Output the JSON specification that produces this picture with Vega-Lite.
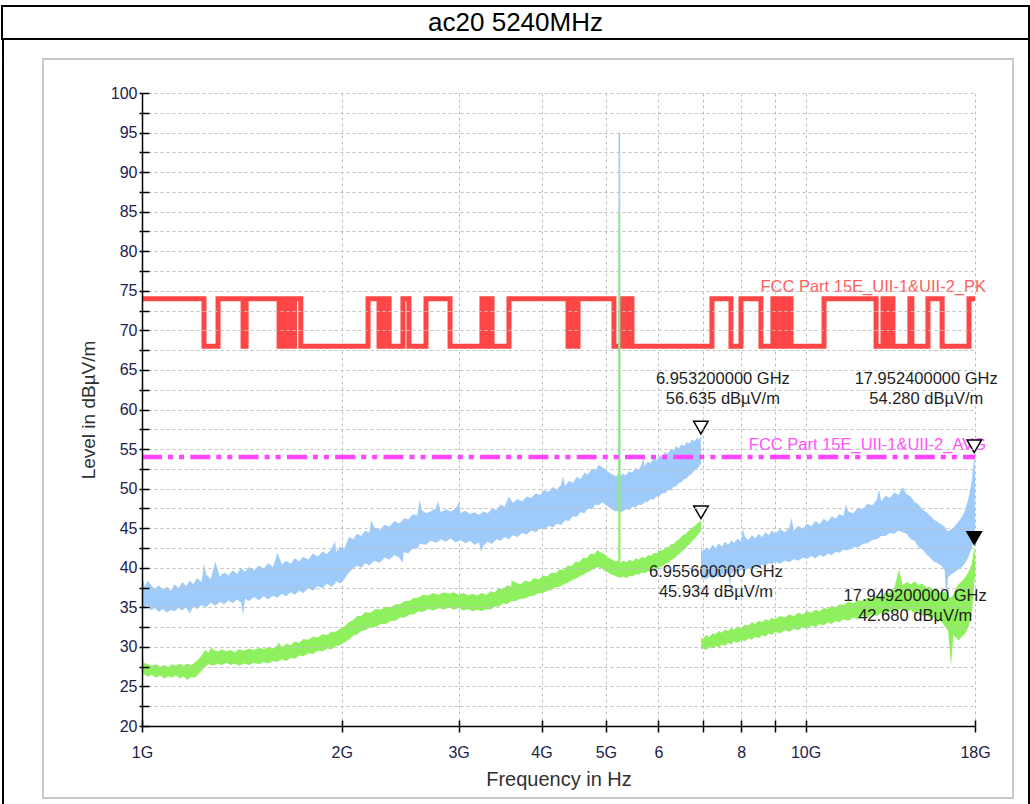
{
  "$schema": "https://vega.github.io/schema/vega-lite/v6.json",
  "background": "white",
  "padding": {"left": 1, "top": 5, "right": 0, "bottom": 0},
  "spacing": 0,
  "bounds": "flush",
  "config": {
    "view": {"stroke": null},
    "concat": {"spacing": 0},
    "font": "Liberation Sans"
  },
  "datasets": {
    "pkLimit": [
      {"f": 1, "lim": 74}, {"f": 1.240, "lim": 68}, {"f": 1.302, "lim": 74}, {"f": 1.420, "lim": 68}, {"f": 1.435, "lim": 74},
      {"f": 1.609, "lim": 68}, {"f": 1.620, "lim": 74}, {"f": 1.632, "lim": 68}, {"f": 1.643, "lim": 74}, {"f": 1.654, "lim": 68},
      {"f": 1.666, "lim": 74}, {"f": 1.695, "lim": 68}, {"f": 1.698, "lim": 74}, {"f": 1.735, "lim": 68}, {"f": 2.191, "lim": 74},
      {"f": 2.276, "lim": 68}, {"f": 2.316, "lim": 74}, {"f": 2.357, "lim": 68}, {"f": 2.473, "lim": 74}, {"f": 2.525, "lim": 68},
      {"f": 2.679, "lim": 74}, {"f": 2.912, "lim": 68}, {"f": 3.253, "lim": 74}, {"f": 3.276, "lim": 68}, {"f": 3.311, "lim": 74},
      {"f": 3.369, "lim": 68}, {"f": 3.573, "lim": 74}, {"f": 4.385, "lim": 68}, {"f": 4.416, "lim": 74}, {"f": 4.447, "lim": 68},
      {"f": 4.477, "lim": 74}, {"f": 4.509, "lim": 68}, {"f": 4.540, "lim": 74}, {"f": 5.143, "lim": 68}, {"f": 5.288, "lim": 74},
      {"f": 5.325, "lim": 68}, {"f": 5.362, "lim": 74}, {"f": 5.400, "lim": 68}, {"f": 5.437, "lim": 74}, {"f": 5.475, "lim": 68},
      {"f": 7.226, "lim": 74}, {"f": 7.719, "lim": 68}, {"f": 7.991, "lim": 74}, {"f": 8.564, "lim": 68}, {"f": 8.928, "lim": 74},
      {"f": 8.990, "lim": 68}, {"f": 9.053, "lim": 74}, {"f": 9.116, "lim": 68}, {"f": 9.180, "lim": 74}, {"f": 9.244, "lim": 68},
      {"f": 9.308, "lim": 74}, {"f": 9.373, "lim": 68}, {"f": 9.438, "lim": 74}, {"f": 9.506, "lim": 68}, {"f": 10.66, "lim": 74},
      {"f": 12.77, "lim": 68}, {"f": 13.08, "lim": 74}, {"f": 13.17, "lim": 68}, {"f": 13.26, "lim": 74}, {"f": 13.36, "lim": 68},
      {"f": 13.45, "lim": 74}, {"f": 13.54, "lim": 68}, {"f": 14.36, "lim": 74}, {"f": 14.46, "lim": 68}, {"f": 15.29, "lim": 74},
      {"f": 16.06, "lim": 68}, {"f": 17.63, "lim": 74}, {"f": 18, "lim": 74}
    ],
    "avLimit": [{"f": 1, "lim": 54}, {"f": 18, "lim": 54}],
    "limitNames": [
      {"f": 18, "lim": 74, "name": "FCC Part 15E_UII-1&UII-2_PK", "kind": "PK"},
      {"f": 18, "lim": 54, "name": "FCC Part 15E_UII-1&UII-2_AVG", "kind": "AVG"}
    ],
    "peakTrace": [
      {"f": 1.000, "lo": 35.2, "hi": 38.9}, {"f": 1.010, "lo": 34.8, "hi": 37.6}, {"f": 1.020, "lo": 35.3, "hi": 38.4},
      {"f": 1.030, "lo": 34.6, "hi": 37.9}, {"f": 1.045, "lo": 34.9, "hi": 37.3}, {"f": 1.060, "lo": 34.4, "hi": 37.8},
      {"f": 1.075, "lo": 34.8, "hi": 37.2}, {"f": 1.090, "lo": 34.3, "hi": 37.6}, {"f": 1.105, "lo": 34.7, "hi": 37.1},
      {"f": 1.120, "lo": 34.5, "hi": 37.9}, {"f": 1.135, "lo": 34.9, "hi": 37.4}, {"f": 1.150, "lo": 34.6, "hi": 38.2},
      {"f": 1.165, "lo": 35.0, "hi": 37.7}, {"f": 1.180, "lo": 34.2, "hi": 38.4}, {"f": 1.195, "lo": 35.1, "hi": 37.9},
      {"f": 1.210, "lo": 34.8, "hi": 38.7}, {"f": 1.230, "lo": 35.3, "hi": 38.2}, {"f": 1.240, "lo": 35.1, "hi": 40.5},
      {"f": 1.250, "lo": 35.0, "hi": 39.1},
      {"f": 1.270, "lo": 35.6, "hi": 38.6}, {"f": 1.290, "lo": 35.2, "hi": 40.8}, {"f": 1.310, "lo": 35.7, "hi": 38.9},
      {"f": 1.330, "lo": 35.4, "hi": 39.4}, {"f": 1.350, "lo": 35.9, "hi": 39.0}, {"f": 1.370, "lo": 35.5, "hi": 39.7},
      {"f": 1.390, "lo": 36.0, "hi": 39.2}, {"f": 1.410, "lo": 35.6, "hi": 40.0}, {"f": 1.420, "lo": 34.0, "hi": 39.7},
      {"f": 1.430, "lo": 36.1, "hi": 39.5},
      {"f": 1.450, "lo": 35.8, "hi": 40.1}, {"f": 1.475, "lo": 36.3, "hi": 39.7}, {"f": 1.500, "lo": 35.9, "hi": 40.3},
      {"f": 1.525, "lo": 36.4, "hi": 39.9}, {"f": 1.550, "lo": 36.0, "hi": 40.6}, {"f": 1.575, "lo": 36.5, "hi": 40.1},
      {"f": 1.600, "lo": 36.2, "hi": 41.9}, {"f": 1.625, "lo": 36.7, "hi": 40.4}, {"f": 1.650, "lo": 36.4, "hi": 40.9},
      {"f": 1.675, "lo": 36.9, "hi": 40.5}, {"f": 1.700, "lo": 36.6, "hi": 41.2}, {"f": 1.725, "lo": 37.1, "hi": 40.8},
      {"f": 1.750, "lo": 36.8, "hi": 41.4}, {"f": 1.780, "lo": 37.4, "hi": 41.0}, {"f": 1.810, "lo": 37.1, "hi": 41.8},
      {"f": 1.840, "lo": 37.7, "hi": 41.4}, {"f": 1.870, "lo": 37.4, "hi": 42.1}, {"f": 1.900, "lo": 38.0, "hi": 41.7},
      {"f": 1.930, "lo": 37.6, "hi": 42.4}, {"f": 1.955, "lo": 38.0, "hi": 43.4}, {"f": 1.960, "lo": 38.3, "hi": 42.0},
      {"f": 1.990, "lo": 38.0, "hi": 42.7},
      {"f": 2.020, "lo": 38.6, "hi": 42.5}, {"f": 2.050, "lo": 39.4, "hi": 43.9}, {"f": 2.080, "lo": 39.9, "hi": 43.6},
      {"f": 2.110, "lo": 40.3, "hi": 44.3}, {"f": 2.140, "lo": 40.0, "hi": 44.0}, {"f": 2.170, "lo": 40.6, "hi": 44.7},
      {"f": 2.200, "lo": 40.3, "hi": 44.4}, {"f": 2.215, "lo": 40.5, "hi": 46.0}, {"f": 2.240, "lo": 40.9, "hi": 45.1},
      {"f": 2.280, "lo": 40.6, "hi": 44.8},
      {"f": 2.320, "lo": 41.3, "hi": 45.4}, {"f": 2.360, "lo": 41.0, "hi": 45.2}, {"f": 2.400, "lo": 41.6, "hi": 45.9},
      {"f": 2.440, "lo": 41.3, "hi": 45.6}, {"f": 2.470, "lo": 40.6, "hi": 46.0}, {"f": 2.480, "lo": 42.0, "hi": 46.3},
      {"f": 2.520, "lo": 41.8, "hi": 46.1},
      {"f": 2.560, "lo": 42.5, "hi": 46.8}, {"f": 2.600, "lo": 42.4, "hi": 46.6}, {"f": 2.620, "lo": 43.0, "hi": 48.6},
      {"f": 2.640, "lo": 43.0, "hi": 47.3}, {"f": 2.680, "lo": 42.9, "hi": 46.9}, {"f": 2.720, "lo": 43.4, "hi": 47.1},
      {"f": 2.770, "lo": 43.2, "hi": 47.5}, {"f": 2.795, "lo": 43.3, "hi": 48.4}, {"f": 2.820, "lo": 43.6, "hi": 47.0},
      {"f": 2.870, "lo": 43.3, "hi": 47.4},
      {"f": 2.920, "lo": 43.7, "hi": 47.1}, {"f": 2.970, "lo": 43.2, "hi": 47.5}, {"f": 3.005, "lo": 43.4, "hi": 48.3},
      {"f": 3.020, "lo": 43.5, "hi": 46.9},
      {"f": 3.070, "lo": 43.1, "hi": 47.2}, {"f": 3.120, "lo": 43.4, "hi": 46.8}, {"f": 3.170, "lo": 42.9, "hi": 47.0},
      {"f": 3.220, "lo": 43.2, "hi": 46.7}, {"f": 3.245, "lo": 42.0, "hi": 46.9}, {"f": 3.270, "lo": 42.8, "hi": 47.1},
      {"f": 3.320, "lo": 43.3, "hi": 46.9},
      {"f": 3.370, "lo": 43.0, "hi": 47.5}, {"f": 3.420, "lo": 43.6, "hi": 47.3}, {"f": 3.470, "lo": 43.4, "hi": 48.0},
      {"f": 3.520, "lo": 43.9, "hi": 47.7}, {"f": 3.570, "lo": 43.6, "hi": 49.0}, {"f": 3.620, "lo": 44.1, "hi": 48.2},
      {"f": 3.680, "lo": 43.9, "hi": 48.7}, {"f": 3.740, "lo": 44.4, "hi": 48.4}, {"f": 3.800, "lo": 44.2, "hi": 49.0},
      {"f": 3.860, "lo": 44.7, "hi": 48.8}, {"f": 3.920, "lo": 44.5, "hi": 49.4}, {"f": 3.980, "lo": 45.0, "hi": 49.2},
      {"f": 4.040, "lo": 44.8, "hi": 49.8}, {"f": 4.100, "lo": 45.3, "hi": 49.6}, {"f": 4.160, "lo": 45.1, "hi": 50.2},
      {"f": 4.220, "lo": 45.6, "hi": 49.9}, {"f": 4.280, "lo": 45.4, "hi": 50.5}, {"f": 4.310, "lo": 45.7, "hi": 51.6},
      {"f": 4.340, "lo": 46.0, "hi": 50.3},
      {"f": 4.400, "lo": 45.9, "hi": 51.0}, {"f": 4.460, "lo": 46.5, "hi": 50.7}, {"f": 4.520, "lo": 46.4, "hi": 51.5},
      {"f": 4.580, "lo": 47.0, "hi": 51.2}, {"f": 4.640, "lo": 46.9, "hi": 52.0}, {"f": 4.700, "lo": 47.5, "hi": 51.8},
      {"f": 4.760, "lo": 47.4, "hi": 52.5}, {"f": 4.820, "lo": 48.0, "hi": 52.3}, {"f": 4.880, "lo": 47.9, "hi": 53.0},
      {"f": 4.940, "lo": 48.3, "hi": 52.7}, {"f": 5.000, "lo": 47.9, "hi": 52.4}, {"f": 5.060, "lo": 47.6, "hi": 52.0},
      {"f": 5.120, "lo": 47.3, "hi": 51.8}, {"f": 5.180, "lo": 47.1, "hi": 51.5}, {"f": 5.220, "lo": 47.2, "hi": 51.9},
      {"f": 5.225, "lo": 47.2, "hi": 95.0}, {"f": 5.255, "lo": 47.1, "hi": 95.0}, {"f": 5.260, "lo": 47.0, "hi": 51.6},
      {"f": 5.300, "lo": 47.1, "hi": 51.9},
      {"f": 5.360, "lo": 47.4, "hi": 51.7}, {"f": 5.420, "lo": 47.3, "hi": 52.2}, {"f": 5.480, "lo": 47.7, "hi": 52.0},
      {"f": 5.540, "lo": 47.6, "hi": 52.6}, {"f": 5.600, "lo": 48.0, "hi": 52.4}, {"f": 5.660, "lo": 47.9, "hi": 53.0},
      {"f": 5.690, "lo": 48.1, "hi": 54.1},
      {"f": 5.720, "lo": 48.3, "hi": 52.8}, {"f": 5.780, "lo": 48.3, "hi": 53.4}, {"f": 5.840, "lo": 48.7, "hi": 53.2},
      {"f": 5.900, "lo": 48.6, "hi": 53.8}, {"f": 5.960, "lo": 49.0, "hi": 53.6}, {"f": 6.020, "lo": 49.0, "hi": 54.2},
      {"f": 6.080, "lo": 49.4, "hi": 54.0}, {"f": 6.140, "lo": 49.4, "hi": 54.6}, {"f": 6.200, "lo": 49.8, "hi": 54.4},
      {"f": 6.260, "lo": 49.8, "hi": 55.0}, {"f": 6.320, "lo": 50.2, "hi": 54.8}, {"f": 6.380, "lo": 50.3, "hi": 55.4},
      {"f": 6.440, "lo": 50.7, "hi": 55.1}, {"f": 6.500, "lo": 50.8, "hi": 55.6}, {"f": 6.560, "lo": 51.2, "hi": 55.4},
      {"f": 6.620, "lo": 51.3, "hi": 55.9}, {"f": 6.680, "lo": 51.7, "hi": 55.7}, {"f": 6.740, "lo": 51.9, "hi": 56.2},
      {"f": 6.800, "lo": 52.3, "hi": 56.0}, {"f": 6.860, "lo": 52.5, "hi": 56.4}, {"f": 6.910, "lo": 52.8, "hi": 56.2},
      {"f": 6.9532, "lo": 53.2, "hi": 56.635}, {"f": 6.958, "lo": 41.0, "hi": 52.0}, {"f": 6.965, "lo": 38.4, "hi": 42.4},
      {"f": 7.000, "lo": 38.7, "hi": 42.0}, {"f": 7.080, "lo": 38.5, "hi": 42.6}, {"f": 7.160, "lo": 38.9, "hi": 42.2},
      {"f": 7.240, "lo": 38.6, "hi": 42.9}, {"f": 7.320, "lo": 39.0, "hi": 42.5}, {"f": 7.400, "lo": 38.8, "hi": 43.1},
      {"f": 7.480, "lo": 39.2, "hi": 42.7}, {"f": 7.560, "lo": 39.0, "hi": 43.3}, {"f": 7.640, "lo": 39.4, "hi": 42.9},
      {"f": 7.700, "lo": 37.6, "hi": 43.2},
      {"f": 7.720, "lo": 39.2, "hi": 43.5}, {"f": 7.800, "lo": 39.6, "hi": 43.1}, {"f": 7.900, "lo": 39.4, "hi": 43.7},
      {"f": 8.000, "lo": 39.8, "hi": 43.3}, {"f": 8.050, "lo": 39.7, "hi": 45.0}, {"f": 8.100, "lo": 39.6, "hi": 43.9},
      {"f": 8.200, "lo": 40.0, "hi": 43.5},
      {"f": 8.300, "lo": 39.8, "hi": 44.1}, {"f": 8.400, "lo": 40.2, "hi": 43.7}, {"f": 8.500, "lo": 40.0, "hi": 44.3},
      {"f": 8.600, "lo": 40.4, "hi": 43.9}, {"f": 8.700, "lo": 40.2, "hi": 44.5}, {"f": 8.800, "lo": 40.6, "hi": 44.1},
      {"f": 8.900, "lo": 40.4, "hi": 44.7}, {"f": 9.000, "lo": 40.8, "hi": 44.3}, {"f": 9.150, "lo": 40.5, "hi": 44.9},
      {"f": 9.300, "lo": 40.9, "hi": 44.5}, {"f": 9.450, "lo": 40.7, "hi": 45.1}, {"f": 9.520, "lo": 40.9, "hi": 46.3},
      {"f": 9.600, "lo": 41.1, "hi": 44.7},
      {"f": 9.750, "lo": 40.9, "hi": 45.3}, {"f": 9.900, "lo": 41.3, "hi": 44.9}, {"f": 10.05, "lo": 41.1, "hi": 45.6},
      {"f": 10.20, "lo": 41.5, "hi": 45.2}, {"f": 10.35, "lo": 41.2, "hi": 45.9}, {"f": 10.50, "lo": 41.6, "hi": 45.5},
      {"f": 10.65, "lo": 41.4, "hi": 46.2}, {"f": 10.80, "lo": 41.8, "hi": 45.8}, {"f": 10.95, "lo": 41.6, "hi": 46.5},
      {"f": 11.10, "lo": 42.0, "hi": 46.2}, {"f": 11.25, "lo": 41.9, "hi": 46.8}, {"f": 11.40, "lo": 42.3, "hi": 46.5},
      {"f": 11.50, "lo": 42.2, "hi": 48.0},
      {"f": 11.60, "lo": 42.2, "hi": 47.1}, {"f": 11.80, "lo": 42.6, "hi": 46.9}, {"f": 12.00, "lo": 42.6, "hi": 47.6},
      {"f": 12.20, "lo": 43.0, "hi": 47.4}, {"f": 12.40, "lo": 43.1, "hi": 48.1}, {"f": 12.60, "lo": 43.5, "hi": 47.9},
      {"f": 12.80, "lo": 43.6, "hi": 48.6}, {"f": 12.90, "lo": 43.8, "hi": 49.9}, {"f": 13.00, "lo": 44.0, "hi": 48.4},
      {"f": 13.20, "lo": 44.0, "hi": 49.1},
      {"f": 13.40, "lo": 44.4, "hi": 48.8}, {"f": 13.60, "lo": 44.3, "hi": 49.5}, {"f": 13.80, "lo": 44.7, "hi": 49.2},
      {"f": 14.00, "lo": 44.5, "hi": 50.2}, {"f": 14.20, "lo": 44.3, "hi": 49.3}, {"f": 14.40, "lo": 43.6, "hi": 49.0},
      {"f": 14.60, "lo": 43.4, "hi": 48.3}, {"f": 14.80, "lo": 42.6, "hi": 48.0}, {"f": 15.00, "lo": 42.3, "hi": 47.4},
      {"f": 15.20, "lo": 41.7, "hi": 47.0}, {"f": 15.40, "lo": 41.3, "hi": 46.6}, {"f": 15.60, "lo": 40.8, "hi": 46.1},
      {"f": 15.80, "lo": 40.6, "hi": 45.8}, {"f": 16.00, "lo": 40.3, "hi": 45.5}, {"f": 16.20, "lo": 39.7, "hi": 45.2},
      {"f": 16.30, "lo": 36.0, "hi": 44.8}, {"f": 16.40, "lo": 38.8, "hi": 44.6}, {"f": 16.60, "lo": 39.2, "hi": 44.9},
      {"f": 16.80, "lo": 39.5, "hi": 45.3}, {"f": 17.00, "lo": 39.8, "hi": 45.8}, {"f": 17.20, "lo": 40.1, "hi": 46.4},
      {"f": 17.40, "lo": 40.6, "hi": 47.3}, {"f": 17.60, "lo": 41.4, "hi": 48.8}, {"f": 17.80, "lo": 42.5, "hi": 51.0},
      {"f": 17.9524, "lo": 44.0, "hi": 54.28}, {"f": 18.00, "lo": 44.5, "hi": 52.0}
    ],
    "avgTrace": [
      {"f": 1.000, "lo": 26.8, "hi": 30.0}, {"f": 1.006, "lo": 26.6, "hi": 28.0}, {"f": 1.020, "lo": 26.2, "hi": 27.8},
      {"f": 1.035, "lo": 26.5, "hi": 27.6}, {"f": 1.050, "lo": 26.1, "hi": 27.8}, {"f": 1.065, "lo": 26.4, "hi": 27.5},
      {"f": 1.080, "lo": 26.0, "hi": 27.7}, {"f": 1.095, "lo": 26.3, "hi": 27.5}, {"f": 1.110, "lo": 26.1, "hi": 27.8},
      {"f": 1.125, "lo": 26.4, "hi": 27.6}, {"f": 1.140, "lo": 26.0, "hi": 27.9}, {"f": 1.155, "lo": 26.3, "hi": 27.6},
      {"f": 1.170, "lo": 25.8, "hi": 27.9}, {"f": 1.185, "lo": 26.2, "hi": 27.7}, {"f": 1.200, "lo": 26.1, "hi": 28.0},
      {"f": 1.215, "lo": 26.5, "hi": 28.4}, {"f": 1.230, "lo": 27.0, "hi": 28.9}, {"f": 1.245, "lo": 27.5, "hi": 29.6},
      {"f": 1.260, "lo": 27.8, "hi": 29.3}, {"f": 1.272, "lo": 27.7, "hi": 30.0}, {"f": 1.280, "lo": 27.6, "hi": 29.6},
      {"f": 1.300, "lo": 27.9, "hi": 29.4},
      {"f": 1.320, "lo": 27.7, "hi": 29.7}, {"f": 1.340, "lo": 28.0, "hi": 29.4}, {"f": 1.360, "lo": 27.7, "hi": 29.6},
      {"f": 1.380, "lo": 27.9, "hi": 29.3}, {"f": 1.400, "lo": 27.6, "hi": 29.7}, {"f": 1.425, "lo": 27.9, "hi": 29.5},
      {"f": 1.450, "lo": 27.7, "hi": 29.8}, {"f": 1.475, "lo": 28.0, "hi": 29.6}, {"f": 1.500, "lo": 27.8, "hi": 29.9},
      {"f": 1.525, "lo": 28.1, "hi": 29.7}, {"f": 1.550, "lo": 27.9, "hi": 30.0}, {"f": 1.575, "lo": 28.2, "hi": 29.8},
      {"f": 1.600, "lo": 28.1, "hi": 30.2}, {"f": 1.605, "lo": 28.2, "hi": 30.6}, {"f": 1.625, "lo": 28.4, "hi": 30.0},
      {"f": 1.650, "lo": 28.2, "hi": 30.4},
      {"f": 1.675, "lo": 28.6, "hi": 30.2}, {"f": 1.700, "lo": 28.5, "hi": 30.7}, {"f": 1.725, "lo": 28.9, "hi": 30.5},
      {"f": 1.750, "lo": 28.8, "hi": 31.0}, {"f": 1.780, "lo": 29.2, "hi": 30.9}, {"f": 1.810, "lo": 29.1, "hi": 31.3},
      {"f": 1.840, "lo": 29.5, "hi": 31.2}, {"f": 1.870, "lo": 29.4, "hi": 31.6}, {"f": 1.900, "lo": 29.8, "hi": 31.5},
      {"f": 1.930, "lo": 29.7, "hi": 31.9}, {"f": 1.960, "lo": 30.1, "hi": 31.9}, {"f": 1.990, "lo": 30.2, "hi": 32.3},
      {"f": 2.020, "lo": 30.6, "hi": 32.6}, {"f": 2.050, "lo": 30.9, "hi": 33.1}, {"f": 2.080, "lo": 31.4, "hi": 33.4},
      {"f": 2.110, "lo": 31.6, "hi": 33.9}, {"f": 2.140, "lo": 32.0, "hi": 33.9}, {"f": 2.170, "lo": 32.1, "hi": 34.4},
      {"f": 2.210, "lo": 32.5, "hi": 34.3}, {"f": 2.250, "lo": 32.5, "hi": 34.8}, {"f": 2.290, "lo": 32.9, "hi": 34.7},
      {"f": 2.330, "lo": 32.9, "hi": 35.1}, {"f": 2.370, "lo": 33.3, "hi": 35.0}, {"f": 2.410, "lo": 33.3, "hi": 35.4},
      {"f": 2.450, "lo": 33.7, "hi": 35.4}, {"f": 2.490, "lo": 33.7, "hi": 35.8}, {"f": 2.530, "lo": 34.1, "hi": 35.8},
      {"f": 2.570, "lo": 34.1, "hi": 36.2}, {"f": 2.610, "lo": 34.5, "hi": 36.2}, {"f": 2.650, "lo": 34.4, "hi": 36.6},
      {"f": 2.700, "lo": 34.8, "hi": 36.5}, {"f": 2.750, "lo": 34.6, "hi": 36.8}, {"f": 2.800, "lo": 34.9, "hi": 36.6},
      {"f": 2.850, "lo": 34.7, "hi": 36.9}, {"f": 2.900, "lo": 35.0, "hi": 36.7}, {"f": 2.950, "lo": 34.7, "hi": 36.9},
      {"f": 3.000, "lo": 34.9, "hi": 36.6}, {"f": 3.050, "lo": 34.6, "hi": 36.8}, {"f": 3.100, "lo": 34.8, "hi": 36.5},
      {"f": 3.150, "lo": 34.5, "hi": 36.7}, {"f": 3.200, "lo": 34.7, "hi": 36.5}, {"f": 3.250, "lo": 34.5, "hi": 36.8},
      {"f": 3.300, "lo": 34.8, "hi": 36.6}, {"f": 3.350, "lo": 34.7, "hi": 37.0}, {"f": 3.400, "lo": 35.1, "hi": 36.9},
      {"f": 3.450, "lo": 35.1, "hi": 37.4}, {"f": 3.500, "lo": 35.5, "hi": 37.3}, {"f": 3.550, "lo": 35.4, "hi": 37.8},
      {"f": 3.600, "lo": 35.8, "hi": 37.6}, {"f": 3.605, "lo": 35.8, "hi": 38.4}, {"f": 3.660, "lo": 35.8, "hi": 38.1},
      {"f": 3.720, "lo": 36.1, "hi": 37.9},
      {"f": 3.780, "lo": 36.1, "hi": 38.4}, {"f": 3.840, "lo": 36.4, "hi": 38.2}, {"f": 3.900, "lo": 36.5, "hi": 38.7},
      {"f": 3.960, "lo": 36.8, "hi": 38.5}, {"f": 4.020, "lo": 36.8, "hi": 39.0}, {"f": 4.080, "lo": 37.1, "hi": 38.9},
      {"f": 4.140, "lo": 37.2, "hi": 39.4}, {"f": 4.200, "lo": 37.5, "hi": 39.3}, {"f": 4.260, "lo": 37.6, "hi": 39.8},
      {"f": 4.320, "lo": 37.9, "hi": 39.7}, {"f": 4.380, "lo": 38.1, "hi": 40.3}, {"f": 4.440, "lo": 38.4, "hi": 40.2},
      {"f": 4.500, "lo": 38.6, "hi": 40.8}, {"f": 4.560, "lo": 38.9, "hi": 40.7}, {"f": 4.620, "lo": 39.1, "hi": 41.3},
      {"f": 4.680, "lo": 39.4, "hi": 41.2}, {"f": 4.740, "lo": 39.6, "hi": 41.8}, {"f": 4.800, "lo": 39.9, "hi": 41.7},
      {"f": 4.860, "lo": 40.1, "hi": 42.2}, {"f": 4.920, "lo": 40.0, "hi": 41.9}, {"f": 4.980, "lo": 39.6, "hi": 41.7},
      {"f": 5.040, "lo": 39.4, "hi": 41.3}, {"f": 5.100, "lo": 39.1, "hi": 41.1}, {"f": 5.160, "lo": 39.0, "hi": 40.8},
      {"f": 5.220, "lo": 38.8, "hi": 40.9}, {"f": 5.225, "lo": 38.8, "hi": 85.0}, {"f": 5.255, "lo": 38.7, "hi": 85.0},
      {"f": 5.260, "lo": 38.7, "hi": 40.6},
      {"f": 5.310, "lo": 38.9, "hi": 40.9}, {"f": 5.370, "lo": 38.7, "hi": 40.7}, {"f": 5.430, "lo": 39.0, "hi": 41.0},
      {"f": 5.490, "lo": 38.9, "hi": 40.8}, {"f": 5.550, "lo": 39.2, "hi": 41.2}, {"f": 5.610, "lo": 39.1, "hi": 41.0},
      {"f": 5.670, "lo": 39.4, "hi": 41.4}, {"f": 5.730, "lo": 39.3, "hi": 41.2}, {"f": 5.790, "lo": 39.6, "hi": 41.6},
      {"f": 5.850, "lo": 39.5, "hi": 41.5}, {"f": 5.910, "lo": 39.8, "hi": 41.9}, {"f": 5.970, "lo": 39.8, "hi": 41.8},
      {"f": 6.030, "lo": 40.1, "hi": 42.2}, {"f": 6.090, "lo": 40.2, "hi": 42.2}, {"f": 6.150, "lo": 40.5, "hi": 42.6},
      {"f": 6.210, "lo": 40.6, "hi": 42.6}, {"f": 6.270, "lo": 41.0, "hi": 43.0}, {"f": 6.330, "lo": 41.1, "hi": 43.0},
      {"f": 6.390, "lo": 41.5, "hi": 43.4}, {"f": 6.450, "lo": 41.7, "hi": 43.6}, {"f": 6.510, "lo": 42.1, "hi": 44.0},
      {"f": 6.570, "lo": 42.3, "hi": 44.2}, {"f": 6.630, "lo": 42.7, "hi": 44.5}, {"f": 6.690, "lo": 43.0, "hi": 44.8},
      {"f": 6.750, "lo": 43.4, "hi": 45.1}, {"f": 6.810, "lo": 43.7, "hi": 45.3}, {"f": 6.870, "lo": 44.1, "hi": 45.6},
      {"f": 6.920, "lo": 44.4, "hi": 45.8}, {"f": 6.9556, "lo": 44.7, "hi": 45.934}, {"f": 6.960, "lo": 29.6, "hi": 31.2},
      {"f": 7.000, "lo": 29.8, "hi": 31.0}, {"f": 7.080, "lo": 29.6, "hi": 31.5}, {"f": 7.160, "lo": 30.0, "hi": 31.2},
      {"f": 7.240, "lo": 29.8, "hi": 31.7}, {"f": 7.320, "lo": 30.1, "hi": 31.6}, {"f": 7.400, "lo": 29.9, "hi": 32.0},
      {"f": 7.480, "lo": 30.3, "hi": 31.8}, {"f": 7.560, "lo": 30.1, "hi": 32.2}, {"f": 7.640, "lo": 30.5, "hi": 32.0},
      {"f": 7.720, "lo": 30.3, "hi": 32.4}, {"f": 7.800, "lo": 30.7, "hi": 32.2}, {"f": 7.900, "lo": 30.5, "hi": 32.6},
      {"f": 8.000, "lo": 30.9, "hi": 32.4}, {"f": 8.100, "lo": 30.7, "hi": 32.8}, {"f": 8.200, "lo": 31.1, "hi": 32.7},
      {"f": 8.300, "lo": 30.9, "hi": 33.1}, {"f": 8.400, "lo": 31.3, "hi": 32.9}, {"f": 8.500, "lo": 31.1, "hi": 33.3},
      {"f": 8.600, "lo": 31.5, "hi": 33.1}, {"f": 8.700, "lo": 31.3, "hi": 33.5}, {"f": 8.800, "lo": 31.7, "hi": 33.3},
      {"f": 8.900, "lo": 31.5, "hi": 33.7}, {"f": 9.000, "lo": 31.9, "hi": 33.5}, {"f": 9.150, "lo": 31.7, "hi": 33.9},
      {"f": 9.300, "lo": 32.1, "hi": 33.7}, {"f": 9.450, "lo": 31.9, "hi": 34.1}, {"f": 9.600, "lo": 32.3, "hi": 33.9},
      {"f": 9.750, "lo": 32.1, "hi": 34.3}, {"f": 9.900, "lo": 32.5, "hi": 34.1}, {"f": 10.05, "lo": 32.3, "hi": 34.5},
      {"f": 10.20, "lo": 32.7, "hi": 34.3}, {"f": 10.35, "lo": 32.5, "hi": 34.7}, {"f": 10.50, "lo": 32.9, "hi": 34.5},
      {"f": 10.65, "lo": 32.7, "hi": 34.9}, {"f": 10.80, "lo": 33.1, "hi": 34.8}, {"f": 10.95, "lo": 32.9, "hi": 35.2},
      {"f": 11.10, "lo": 33.3, "hi": 35.0}, {"f": 11.25, "lo": 33.1, "hi": 35.4}, {"f": 11.40, "lo": 33.5, "hi": 35.3},
      {"f": 11.60, "lo": 33.3, "hi": 35.7}, {"f": 11.80, "lo": 33.7, "hi": 35.5}, {"f": 12.00, "lo": 33.5, "hi": 35.9},
      {"f": 12.20, "lo": 33.9, "hi": 35.8}, {"f": 12.40, "lo": 33.7, "hi": 36.2}, {"f": 12.60, "lo": 34.1, "hi": 36.1},
      {"f": 12.80, "lo": 33.9, "hi": 36.5}, {"f": 13.00, "lo": 34.3, "hi": 36.4}, {"f": 13.20, "lo": 34.1, "hi": 36.9},
      {"f": 13.40, "lo": 34.5, "hi": 36.8}, {"f": 13.60, "lo": 34.3, "hi": 37.4}, {"f": 13.83, "lo": 34.7, "hi": 39.8},
      {"f": 14.00, "lo": 34.8, "hi": 37.8}, {"f": 14.20, "lo": 34.4, "hi": 38.2}, {"f": 14.40, "lo": 34.7, "hi": 37.9},
      {"f": 14.60, "lo": 34.2, "hi": 38.3}, {"f": 14.80, "lo": 34.5, "hi": 37.8}, {"f": 15.00, "lo": 33.9, "hi": 38.0},
      {"f": 15.20, "lo": 34.2, "hi": 37.5}, {"f": 15.40, "lo": 33.6, "hi": 37.6}, {"f": 15.60, "lo": 33.8, "hi": 37.1},
      {"f": 15.80, "lo": 33.1, "hi": 37.3}, {"f": 16.00, "lo": 33.3, "hi": 36.8}, {"f": 16.20, "lo": 32.6, "hi": 37.0},
      {"f": 16.40, "lo": 32.0, "hi": 36.4}, {"f": 16.56, "lo": 27.6, "hi": 36.2}, {"f": 16.70, "lo": 31.5, "hi": 36.6},
      {"f": 16.85, "lo": 31.2, "hi": 37.4}, {"f": 17.00, "lo": 30.8, "hi": 37.9}, {"f": 17.20, "lo": 31.3, "hi": 38.3},
      {"f": 17.40, "lo": 31.7, "hi": 38.8}, {"f": 17.60, "lo": 32.5, "hi": 39.5}, {"f": 17.80, "lo": 34.0, "hi": 40.5},
      {"f": 17.9492, "lo": 38.0, "hi": 42.68}, {"f": 18.00, "lo": 39.0, "hi": 41.5}
    ],
    "markers": [
      {"id": 1, "f": 6.9532, "v": 56.635},
      {"id": 2, "f": 6.9556, "v": 45.934},
      {"id": 3, "f": 17.9524, "v": 54.28},
      {"id": 4, "f": 17.9492, "v": 42.68}
    ]
  },
  "vconcat": [
    {
      "width": 1027,
      "height": 33,
      "view": {"stroke": "#000000", "strokeWidth": 2},
      "data": {"values": [{"caption": "ac20 5240MHz"}]},
      "mark": {"type": "text", "font": "Liberation Sans", "fontSize": 26, "color": "#000000", "align": "center", "baseline": "middle"},
      "encoding": {"text": {"field": "caption", "type": "nominal"}}
    },
    {
      "columns": 5,
      "spacing": 0,
      "bounds": "flush",
      "align": "each",
      "concat": [
        {"width": 1, "height": 20, "view": {"stroke": "#000000", "strokeWidth": 1}, "data": {"values": []}, "mark": "point"},
        {"width": 40, "height": 1, "data": {"values": []}, "mark": "point"},
        {"width": 970, "height": 20, "data": {"values": []}, "mark": "point"},
        {"width": 15, "height": 1, "data": {"values": []}, "mark": "point"},
        {"width": 1, "height": 20, "view": {"stroke": "#000000", "strokeWidth": 1}, "data": {"values": []}, "mark": "point"},
        {"width": 1, "height": 745, "view": {"stroke": "#000000", "strokeWidth": 1}, "data": {"values": []}, "mark": "point"},
        {"width": 40, "height": 1, "data": {"values": []}, "mark": "point"},
        {
          "width": 970,
          "height": 739,
          "view": {"stroke": "#c9c9c9", "strokeWidth": 2},
          "resolve": {"axis": {"x": "independent", "y": "independent"}},
          "layer": [
            {
              "data": {"name": "pkLimit"},
              "mark": {"type": "line", "interpolate": "step-after", "color": "#ff4646", "strokeWidth": 5, "strokeJoin": "miter", "strokeCap": "butt"},
              "encoding": {
                "x": {
                  "field": "f", "type": "quantitative",
                  "scale": {"type": "log", "domain": [1, 18], "range": [99, 932], "nice": false},
                  "axis": {
                    "orient": "bottom", "offset": -72, "zindex": 1,
                    "values": [1, 2, 3, 4, 5, 6, 7, 8, 9, 10, 18],
                    "labelExpr": "(datum.value === 6 || datum.value === 8) ? '' + datum.value : (datum.value <= 5 || datum.value === 10 || datum.value === 18) ? datum.value + 'G' : ''",
                    "grid": false,
                    "domainColor": "#000000", "domainWidth": 1.5,
                    "tickColor": "#000000", "tickWidth": 1.5, "tickSize": 6,
                    "labelFont": "Liberation Sans", "labelFontSize": 16, "labelColor": "#22224a",
                    "labelPadding": 12, "labelFlush": false, "labelOverlap": false,
                    "title": "Frequency in Hz", "titleFont": "Liberation Sans", "titleFontSize": 20,
                    "titleFontWeight": "normal", "titleColor": "#303030", "titlePadding": 9
                  }
                },
                "y": {
                  "field": "lim", "type": "quantitative",
                  "scale": {"domain": [20, 100], "range": [667, 34], "nice": false, "zero": false},
                  "axis": {
                    "orient": "left", "offset": -99, "zindex": 1,
                    "values": [20, 22.5, 25, 27.5, 30, 32.5, 35, 37.5, 40, 42.5, 45, 47.5, 50, 52.5, 55, 57.5, 60, 62.5, 65, 67.5, 70, 72.5, 75, 77.5, 80, 82.5, 85, 87.5, 90, 92.5, 95, 97.5, 100],
                    "labelExpr": "datum.value % 5 === 0 ? datum.label : ''",
                    "grid": true, "gridColor": "#c0c0c0", "gridDash": [3, 3], "gridWidth": 1,
                    "domainColor": "#000000", "domainWidth": 1.5,
                    "tickColor": "#000000", "tickWidth": 1.5, "tickSize": 3,
                    "labelFont": "Liberation Sans", "labelFontSize": 16, "labelColor": "#22224a",
                    "labelPadding": 2, "labelOverlap": false,
                    "title": "Level in dBµV/m", "titleFont": "Liberation Sans", "titleFontSize": 19,
                    "titleFontWeight": "normal", "titleColor": "#303030", "titlePadding": 12
                  }
                }
              }
            },
            {
              "data": {"name": "peakTrace"},
              "mark": {"type": "area", "color": "#9ecbfa", "opacity": 1},
              "encoding": {
                "x": {"field": "f", "type": "quantitative", "scale": {"type": "log", "domain": [1, 18], "range": [99, 932], "nice": false}, "axis": null},
                "y": {"field": "lo", "type": "quantitative", "scale": {"domain": [20, 100], "range": [667, 34], "nice": false, "zero": false}, "axis": null},
                "y2": {"field": "hi"}
              }
            },
            {
              "data": {"name": "avgTrace"},
              "mark": {"type": "area", "color": "#8df05c", "opacity": 1},
              "encoding": {
                "x": {"field": "f", "type": "quantitative", "scale": {"type": "log", "domain": [1, 18], "range": [99, 932], "nice": false}, "axis": null},
                "y": {"field": "lo", "type": "quantitative", "scale": {"domain": [20, 100], "range": [667, 34], "nice": false, "zero": false}, "axis": null},
                "y2": {"field": "hi"}
              }
            },
            {
              "data": {"name": "avLimit"},
              "mark": {"type": "line", "color": "#ff44ff", "strokeWidth": 4.5, "strokeDash": [20, 6, 5, 6, 5, 6.3], "strokeCap": "butt"},
              "encoding": {
                "x": {
                  "field": "f", "type": "quantitative",
                  "scale": {"type": "log", "domain": [1, 18], "range": [99, 932], "nice": false},
                  "axis": {
                    "orient": "top", "offset": -667,
                    "values": [1, 2, 3, 4, 5, 6, 7, 8, 9, 10, 18],
                    "labels": false, "domain": false,
                    "grid": true, "gridColor": "#c0c0c0", "gridDash": [3, 3], "gridWidth": 1,
                    "tickColor": "#000000", "tickWidth": 1.5, "tickSize": 6,
                    "title": null
                  }
                },
                "y": {
                  "field": "lim", "type": "quantitative",
                  "scale": {"domain": [20, 100], "range": [667, 34], "nice": false, "zero": false},
                  "axis": {
                    "orient": "right", "offset": -871, "zindex": 1,
                    "values": [20, 22.5, 25, 27.5, 30, 32.5, 35, 37.5, 40, 42.5, 45, 47.5, 50, 52.5, 55, 57.5, 60, 62.5, 65, 67.5, 70, 72.5, 75, 77.5, 80, 82.5, 85, 87.5, 90, 92.5, 95, 97.5, 100],
                    "labels": false, "domain": false, "grid": false,
                    "tickColor": "#000000", "tickWidth": 1.5, "tickSize": 7,
                    "title": null
                  }
                }
              }
            },
            {
              "data": {"name": "limitNames"},
              "mark": {"type": "text", "align": "right", "baseline": "middle", "dx": 11, "dy": -12, "font": "Liberation Sans", "fontSize": 16.5, "opacity": 0.92},
              "encoding": {
                "x": {"field": "f", "type": "quantitative", "scale": {"type": "log", "domain": [1, 18], "range": [99, 932], "nice": false}, "axis": null},
                "y": {"field": "lim", "type": "quantitative", "scale": {"domain": [20, 100], "range": [667, 34], "nice": false, "zero": false}, "axis": null},
                "text": {"field": "name", "type": "nominal"},
                "color": {"field": "kind", "type": "nominal", "scale": {"domain": ["PK", "AVG"], "range": ["#ff5252", "#ff44ff"]}, "legend": null}
              }
            },
            {
              "data": {"name": "markers"},
              "mark": {"type": "point", "shape": "triangle-down", "size": 210, "filled": true, "strokeWidth": 1.5, "yOffset": -8.5, "opacity": 1},
              "encoding": {
                "x": {"field": "f", "type": "quantitative", "scale": {"type": "log", "domain": [1, 18], "range": [99, 932], "nice": false}, "axis": null},
                "y": {"field": "v", "type": "quantitative", "scale": {"domain": [20, 100], "range": [667, 34], "nice": false, "zero": false}, "axis": null},
                "fill": {"condition": {"test": "datum.id === 4", "value": "#000000"}, "value": "#ffffff"},
                "stroke": {"value": "#000000"}
              }
            },
            {
              "data": {"name": "markers"},
              "transform": [
                {"filter": "datum.id === 1"},
                {"calculate": "[format(datum.f, '.9f') + ' GHz', format(datum.v, '.3f') + ' dBµV/m']", "as": "lbl"}
              ],
              "mark": {"type": "text", "align": "center", "baseline": "middle", "lineHeight": 20, "dx": 22, "dy": -57, "font": "Liberation Sans", "fontSize": 16.5, "color": "#1e1e1e"},
              "encoding": {
                "x": {"field": "f", "type": "quantitative", "scale": {"type": "log", "domain": [1, 18], "range": [99, 932], "nice": false}, "axis": null},
                "y": {"field": "v", "type": "quantitative", "scale": {"domain": [20, 100], "range": [667, 34], "nice": false, "zero": false}, "axis": null},
                "text": {"field": "lbl", "type": "nominal"}
              }
            },
            {
              "data": {"name": "markers"},
              "transform": [
                {"filter": "datum.id === 2"},
                {"calculate": "[format(datum.f, '.9f') + ' GHz', format(datum.v, '.3f') + ' dBµV/m']", "as": "lbl"}
              ],
              "mark": {"type": "text", "align": "center", "baseline": "middle", "lineHeight": 20, "dx": 15, "dy": 51, "font": "Liberation Sans", "fontSize": 16.5, "color": "#1e1e1e"},
              "encoding": {
                "x": {"field": "f", "type": "quantitative", "scale": {"type": "log", "domain": [1, 18], "range": [99, 932], "nice": false}, "axis": null},
                "y": {"field": "v", "type": "quantitative", "scale": {"domain": [20, 100], "range": [667, 34], "nice": false, "zero": false}, "axis": null},
                "text": {"field": "lbl", "type": "nominal"}
              }
            },
            {
              "data": {"name": "markers"},
              "transform": [
                {"filter": "datum.id === 3"},
                {"calculate": "[format(datum.f, '.9f') + ' GHz', format(datum.v, '.3f') + ' dBµV/m']", "as": "lbl"}
              ],
              "mark": {"type": "text", "align": "center", "baseline": "middle", "lineHeight": 20, "dx": -48, "dy": -76, "font": "Liberation Sans", "fontSize": 16.5, "color": "#1e1e1e"},
              "encoding": {
                "x": {"field": "f", "type": "quantitative", "scale": {"type": "log", "domain": [1, 18], "range": [99, 932], "nice": false}, "axis": null},
                "y": {"field": "v", "type": "quantitative", "scale": {"domain": [20, 100], "range": [667, 34], "nice": false, "zero": false}, "axis": null},
                "text": {"field": "lbl", "type": "nominal"}
              }
            },
            {
              "data": {"name": "markers"},
              "transform": [
                {"filter": "datum.id === 4"},
                {"calculate": "[format(datum.f, '.9f') + ' GHz', format(datum.v, '.3f') + ' dBµV/m']", "as": "lbl"}
              ],
              "mark": {"type": "text", "align": "center", "baseline": "middle", "lineHeight": 20, "dx": -59, "dy": 49.5, "font": "Liberation Sans", "fontSize": 16.5, "color": "#1e1e1e"},
              "encoding": {
                "x": {"field": "f", "type": "quantitative", "scale": {"type": "log", "domain": [1, 18], "range": [99, 932], "nice": false}, "axis": null},
                "y": {"field": "v", "type": "quantitative", "scale": {"domain": [20, 100], "range": [667, 34], "nice": false, "zero": false}, "axis": null},
                "text": {"field": "lbl", "type": "nominal"}
              }
            }
          ]
        },
        {"width": 15, "height": 1, "data": {"values": []}, "mark": "point"},
        {"width": 1, "height": 745, "view": {"stroke": "#000000", "strokeWidth": 1}, "data": {"values": []}, "mark": "point"}
      ]
    }
  ]
}
